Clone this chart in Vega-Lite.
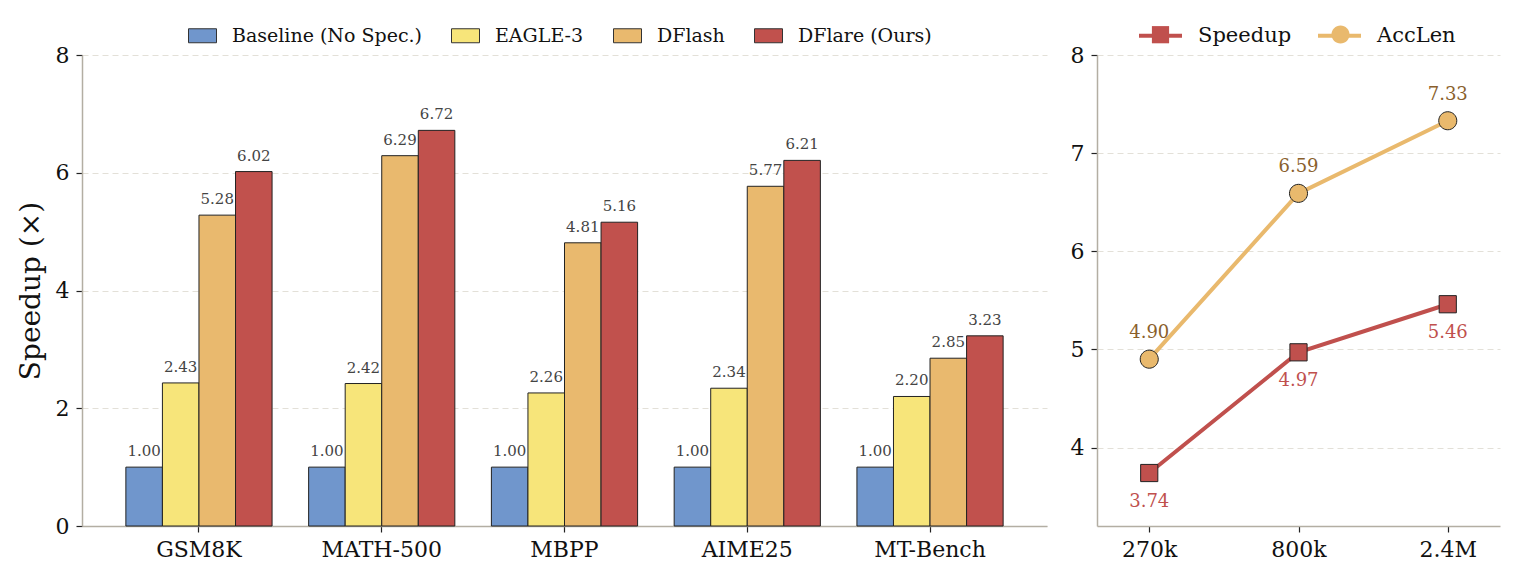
{
  "$schema": "https://vega.github.io/schema/vega-lite/v6.json",
  "padding": {"left": 17, "top": 12, "right": 5, "bottom": 5},
  "background": "white",
  "spacing": 23,
  "config": {
    "font": "DejaVu Serif",
    "view": {"stroke": null},
    "axis": {
      "labelFont": "DejaVu Serif",
      "labelFontSize": 22,
      "labelColor": "#111",
      "labelPadding": 7,
      "domainColor": "#b3aea3",
      "domainWidth": 1.5,
      "tickColor": "#222",
      "tickSize": 6,
      "tickWidth": 1.2,
      "gridColor": "#e3e0d8",
      "gridDash": [6, 4],
      "gridWidth": 1,
      "titleFont": "DejaVu Serif",
      "titleFontWeight": "normal",
      "titleFontSize": 28,
      "titleColor": "#111",
      "titlePadding": 10
    },
    "axisX": {"grid": false, "labelPadding": 7},
    "legend": {
      "labelFont": "DejaVu Serif",
      "labelColor": "#111",
      "labelLimit": 0
    }
  },
  "hconcat": [
    {
      "width": 965,
      "height": 471,
      "data": {
        "values": [
          {"benchmark": "GSM8K", "method": "Baseline (No Spec.)", "speedup": 1.00},
          {"benchmark": "GSM8K", "method": "EAGLE-3", "speedup": 2.43},
          {"benchmark": "GSM8K", "method": "DFlash", "speedup": 5.28},
          {"benchmark": "GSM8K", "method": "DFlare (Ours)", "speedup": 6.02},
          {"benchmark": "MATH-500", "method": "Baseline (No Spec.)", "speedup": 1.00},
          {"benchmark": "MATH-500", "method": "EAGLE-3", "speedup": 2.42},
          {"benchmark": "MATH-500", "method": "DFlash", "speedup": 6.29},
          {"benchmark": "MATH-500", "method": "DFlare (Ours)", "speedup": 6.72},
          {"benchmark": "MBPP", "method": "Baseline (No Spec.)", "speedup": 1.00},
          {"benchmark": "MBPP", "method": "EAGLE-3", "speedup": 2.26},
          {"benchmark": "MBPP", "method": "DFlash", "speedup": 4.81},
          {"benchmark": "MBPP", "method": "DFlare (Ours)", "speedup": 5.16},
          {"benchmark": "AIME25", "method": "Baseline (No Spec.)", "speedup": 1.00},
          {"benchmark": "AIME25", "method": "EAGLE-3", "speedup": 2.34},
          {"benchmark": "AIME25", "method": "DFlash", "speedup": 5.77},
          {"benchmark": "AIME25", "method": "DFlare (Ours)", "speedup": 6.21},
          {"benchmark": "MT-Bench", "method": "Baseline (No Spec.)", "speedup": 1.00},
          {"benchmark": "MT-Bench", "method": "EAGLE-3", "speedup": 2.20},
          {"benchmark": "MT-Bench", "method": "DFlash", "speedup": 2.85},
          {"benchmark": "MT-Bench", "method": "DFlare (Ours)", "speedup": 3.23}
        ]
      },
      "encoding": {
        "x": {
          "field": "benchmark", "type": "nominal",
          "sort": ["GSM8K", "MATH-500", "MBPP", "AIME25", "MT-Bench"],
          "scale": {"paddingInner": 0.2, "paddingOuter": 0.24},
          "axis": {"title": null, "labelAngle": 0}
        },
        "xOffset": {
          "field": "method", "type": "nominal",
          "sort": ["Baseline (No Spec.)", "EAGLE-3", "DFlash", "DFlare (Ours)"],
          "scale": {"paddingInner": 0, "paddingOuter": 0}
        },
        "y": {
          "field": "speedup", "type": "quantitative",
          "scale": {"domain": [0, 8], "nice": false},
          "axis": {"values": [0, 2, 4, 6, 8], "title": "Speedup (×)", "grid": true}
        }
      },
      "layer": [
        {
          "mark": {"type": "bar", "stroke": "#222", "strokeWidth": 1},
          "encoding": {
            "fill": {
              "field": "method", "type": "nominal",
              "scale": {
                "domain": ["Baseline (No Spec.)", "EAGLE-3", "DFlash", "DFlare (Ours)"],
                "range": ["#7096cc", "#f7e57a", "#e9b96e", "#c1514d"]
              },
              "legend": {
                "orient": "none", "legendX": 106, "legendY": -34,
                "direction": "horizontal", "title": null,
                "symbolType": "M-1,-0.5H1V0.5H-1Z", "symbolSize": 784,
                "symbolStrokeColor": "#333", "symbolStrokeWidth": 1, "symbolOpacity": 1,
                "labelFontSize": 19, "labelOffset": 15, "columnPadding": 27
              }
            }
          }
        },
        {
          "mark": {"type": "text", "dy": -11, "baseline": "alphabetic", "fontSize": 15, "color": "#444"},
          "encoding": {"text": {"field": "speedup", "type": "quantitative", "format": ".2f"}}
        }
      ]
    },
    {
      "width": 403,
      "height": 471,
      "data": {
        "values": [
          {"size": "270k", "metric": "Speedup", "value": 3.74},
          {"size": "800k", "metric": "Speedup", "value": 4.97},
          {"size": "2.4M", "metric": "Speedup", "value": 5.46},
          {"size": "270k", "metric": "AccLen", "value": 4.90},
          {"size": "800k", "metric": "AccLen", "value": 6.59},
          {"size": "2.4M", "metric": "AccLen", "value": 7.33}
        ]
      },
      "encoding": {
        "x": {
          "field": "size", "type": "ordinal", "sort": ["270k", "800k", "2.4M"],
          "scale": {"type": "point", "padding": 0.35},
          "axis": {"title": null, "labelAngle": 0}
        },
        "y": {
          "field": "value", "type": "quantitative",
          "scale": {"domain": [3.2, 8], "nice": false, "zero": false},
          "axis": {"values": [4, 5, 6, 7, 8], "title": null, "grid": true}
        }
      },
      "layer": [
        {
          "mark": {"type": "line", "strokeWidth": 4},
          "encoding": {
            "order": {"value": null},
            "stroke": {
              "field": "metric", "type": "nominal",
              "scale": {"domain": ["Speedup", "AccLen"], "range": ["#c0504d", "#e9b96d"]},
              "legend": {
                "orient": "none", "legendX": 40, "legendY": -43,
                "direction": "horizontal", "title": null,
                "symbolType": "stroke", "symbolSize": 1849, "symbolStrokeWidth": 4,
                "labelFontSize": 21, "labelOffset": 14, "columnPadding": 18
              }
            }
          }
        },
        {
          "transform": [{"filter": "datum.value > 0"}],
          "mark": {"type": "point", "filled": true, "size": 1849, "stroke": "#222", "strokeWidth": 1, "opacity": 1},
          "encoding": {
            "fill": {
              "field": "metric", "type": "nominal",
              "scale": {"domain": ["AccLen", "Speedup"], "range": ["#e9b96d", "#c0504d"]},
              "legend": {
                "orient": "none", "legendX": 41.5, "legendY": -43,
                "direction": "horizontal", "title": null, "values": ["Speedup", "AccLen"],
                "symbolSize": 1849, "symbolStrokeWidth": 1, "symbolStrokeColor": "#222",
                "labelFontSize": 21, "labelOffset": 14, "columnPadding": 28, "labelOpacity": 0
              }
            },
            "shape": {
              "field": "metric", "type": "nominal",
              "scale": {
                "domain": ["AccLen", "Speedup"],
                "range": ["M-0.42,0A0.42,0.42 0 1,0 0.42,0A0.42,0.42 0 1,0 -0.42,0Z", "M-0.4,-0.4H0.4V0.4H-0.4Z"]
              },
              "legend": {
                "orient": "none", "legendX": 41.5, "legendY": -43,
                "direction": "horizontal", "title": null, "values": ["Speedup", "AccLen"],
                "symbolSize": 1849, "symbolStrokeWidth": 1, "symbolStrokeColor": "#222",
                "labelFontSize": 21, "labelOffset": 14, "columnPadding": 28, "labelOpacity": 0
              }
            }
          }
        },
        {
          "transform": [{"filter": "datum.metric === 'AccLen'"}],
          "mark": {"type": "text", "dy": -21, "baseline": "alphabetic", "fontSize": 18, "color": "#8a5f2c"},
          "encoding": {"text": {"field": "value", "type": "quantitative", "format": ".2f"}}
        },
        {
          "transform": [{"filter": "datum.metric === 'Speedup'"}],
          "mark": {"type": "text", "dy": 34, "baseline": "alphabetic", "fontSize": 18, "color": "#c0504d"},
          "encoding": {"text": {"field": "value", "type": "quantitative", "format": ".2f"}}
        }
      ]
    }
  ],
  "resolve": {
    "scale": {"fill": "independent", "stroke": "independent", "shape": "independent", "color": "independent"},
    "legend": {"fill": "independent", "stroke": "independent", "shape": "independent", "color": "independent"}
  }
}
